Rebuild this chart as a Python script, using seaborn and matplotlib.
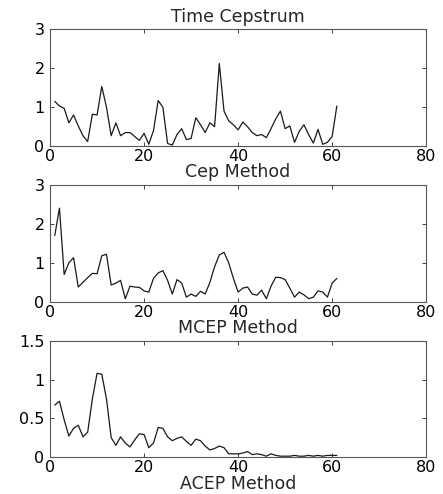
import numpy as np
import pandas as pd
import matplotlib
matplotlib.use("Agg")
import matplotlib.pyplot as plt
import seaborn as sns

idx = list(range(1, 62))

time_cepstrum = [1.15, 1.03, 0.97, 0.6, 0.8, 0.52, 0.27, 0.12, 0.82, 0.8,
                 1.53, 1.0, 0.27, 0.6, 0.27, 0.35, 0.35, 0.25, 0.15, 0.33,
                 0.05, 0.4, 1.17, 1.0, 0.07, 0.03, 0.3, 0.45, 0.17, 0.2,
                 0.73, 0.55, 0.35, 0.6, 0.5, 2.12, 0.9, 0.65, 0.55, 0.42,
                 0.62, 0.5, 0.35, 0.27, 0.3, 0.22, 0.45, 0.7, 0.9, 0.45,
                 0.52, 0.1, 0.38, 0.55, 0.3, 0.08, 0.43, 0.05, 0.1, 0.25,
                 1.03]

cep_method = [1.7, 2.4, 0.7, 1.0, 1.13, 0.38, 0.5, 0.62, 0.73, 0.72,
              1.18, 1.22, 0.43, 0.48, 0.55, 0.08, 0.4, 0.38, 0.37, 0.28,
              0.25, 0.6, 0.74, 0.8, 0.55, 0.2, 0.57, 0.48, 0.12, 0.2,
              0.14, 0.27, 0.2, 0.5, 0.9, 1.2, 1.27, 1.0, 0.6, 0.25,
              0.35, 0.38, 0.2, 0.17, 0.3, 0.08, 0.4, 0.63, 0.62, 0.57,
              0.35, 0.12, 0.25, 0.18, 0.08, 0.12, 0.28, 0.25, 0.12, 0.48,
              0.6]

mcep_method = [0.67, 0.72, 0.48, 0.27, 0.37, 0.41, 0.26, 0.32, 0.75, 1.08,
               1.07, 0.75, 0.25, 0.15, 0.26, 0.18, 0.13, 0.22, 0.3, 0.29,
               0.12, 0.18, 0.38, 0.37, 0.26, 0.21, 0.24, 0.26, 0.2, 0.15,
               0.23, 0.21, 0.14, 0.09, 0.11, 0.14, 0.12, 0.04, 0.04, 0.04,
               0.05, 0.07, 0.03, 0.04, 0.03, 0.01, 0.04, 0.02, 0.01, 0.01,
               0.01, 0.02, 0.01, 0.01, 0.02, 0.01, 0.02, 0.01, 0.02, 0.02,
               0.02]

titles = ["Time Cepstrum", "Cep Method", "MCEP Method"]
bottom_label = "ACEP Method"
x_ticks = [0, 20, 40, 60, 80]
y_ticks = [[0, 1, 2, 3], [0, 1, 2, 3], [0, 0.5, 1, 1.5]]
y_ticklabels = [["0", "1", "2", "3"], ["0", "1", "2", "3"], ["0", "0.5", "1", "1.5"]]

sns.set_style("white")
plt.rcParams["font.family"] = ["DejaVu Sans"]

fig = plt.figure(figsize=(4.43, 4.94), dpi=100)
boxes = [[0.113, 0.704, 0.849, 0.237],
         [0.113, 0.389, 0.849, 0.237],
         [0.113, 0.075, 0.849, 0.235]]
series = [time_cepstrum, cep_method, mcep_method]

for i, (box, vals) in enumerate(zip(boxes, series)):
    ax = fig.add_axes(box)
    df = pd.DataFrame({"x": idx, "y": vals})
    sns.lineplot(data=df, x="x", y="y", ax=ax, color="#1a1a1a", linewidth=0.9)
    ax.set_xlim(0, 80)
    ax.set_ylim(y_ticks[i][0], y_ticks[i][-1])
    ax.set_xticks(x_ticks)
    ax.set_xticklabels([str(t) for t in x_ticks], fontsize=11.5)
    ax.set_yticks(y_ticks[i])
    ax.set_yticklabels(y_ticklabels[i], fontsize=11.5)
    ax.tick_params(direction="in", length=3, width=0.6, top=True, right=True,
                   bottom=True, left=True, pad=4, colors="#222222",
                   labelcolor="black")
    ax.tick_params(axis="x", pad=2)
    for s in ax.spines.values():
        s.set_color("#555555")
        s.set_linewidth(0.8)
    ax.set_xlabel("")
    ax.set_ylabel("")
    ax.set_title(titles[i], fontsize=12.5, pad=5.5)
    if i == 2:
        ax.set_xlabel(bottom_label, fontsize=12.5, labelpad=0)

fig.savefig("out.png", dpi=100)
